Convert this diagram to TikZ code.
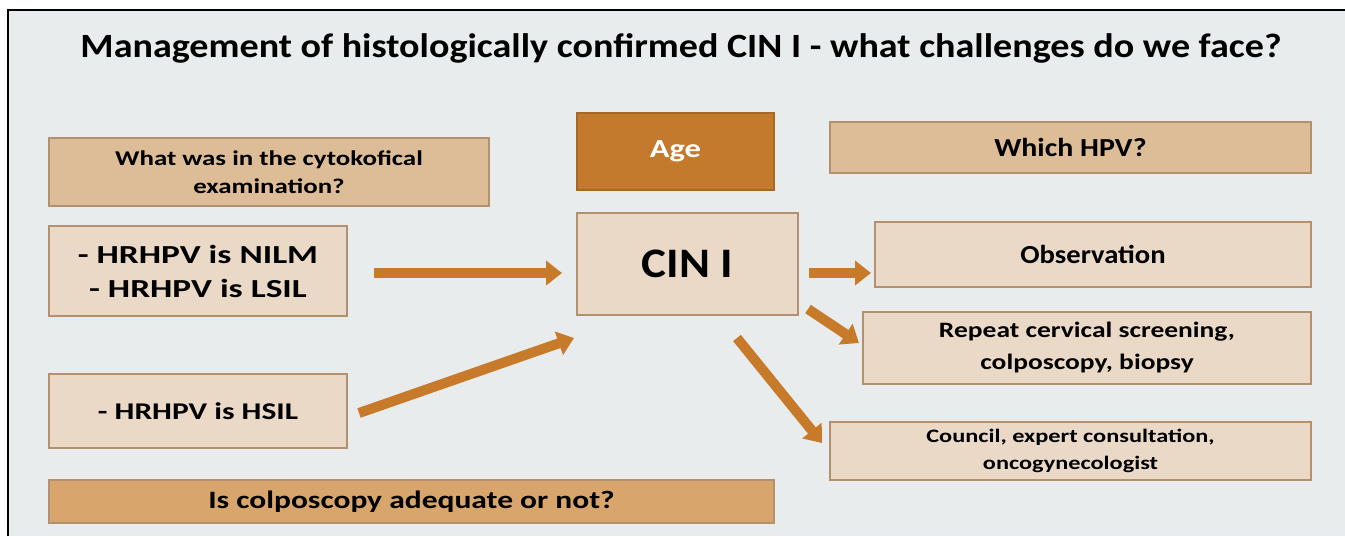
\documentclass[tikz,border=0pt]{standalone}
\usepackage{fontspec}
\setmainfont{Carlito}
\usetikzlibrary{arrows.meta}

\definecolor{bgray}{HTML}{E9ECED}
\definecolor{tanfill}{HTML}{DDBD98}
\definecolor{palefill}{HTML}{EAD9C7}
\definecolor{agefill}{HTML}{C47A2C}
\definecolor{colpfill}{HTML}{D8A66C}
\definecolor{boxline}{HTML}{B39070}
\definecolor{arrowcol}{HTML}{C77B2A}

% bold text at size #1, leading #2, widened by #3
\newcommand{\boxfont}[3]{\bfseries\fontsize{#1}{#2}\selectfont\addfontfeatures{FakeStretch=#3}}

\tikzset{
  box/.style={draw=boxline, line width=2pt, inner sep=0pt, align=center},
  arr/.style={arrowcol, line width=10pt, -{Triangle[length=16pt,width=24pt]}},
}

\begin{document}
\begin{tikzpicture}[x=1pt,y=-1pt]
  \useasboundingbox (0,0) rectangle (1345,536);
  % frame
  \fill[bgray] (8,10) rectangle (1345,536);
  \draw[line width=1.5pt] (8,536) -- (8,10) -- (1345,10);

  \node[font=\boxfont{34}{40}{1.12}] (title) at (681,48) {Management of histologically confirmed CIN I - what challenges do we face?};

  % left column
  \node[box, fill=tanfill, minimum width=440, minimum height=68, font=\boxfont{21}{28}{1.28}] (cyto) at (269,172) {What was in the cytokofical\\examination?};
  \node[box, fill=palefill, minimum width=298, minimum height=90, font=\boxfont{26}{34}{1.36}] (nilm) at (198,271) {- HRHPV is NILM\\- HRHPV is LSIL};
  \node[box, fill=palefill, minimum width=298, minimum height=74, font=\boxfont{24}{30}{1.31}] (hsil) at (198,411) {- HRHPV is HSIL};
  \node[box, fill=colpfill, minimum width=725, minimum height=43, font=\boxfont{25}{30}{1.26}] (colp) at (411.5,501.5) {Is colposcopy adequate or not?};

  % centre
  \node[box, draw=agefill!85!black, fill=agefill, text=white, minimum width=197, minimum height=77, font=\boxfont{26}{30}{1.25}] (age) at (675.5,151.5) {Age};
  \node[box, fill=palefill, minimum width=221, minimum height=102, font=\boxfont{42}{48}{1.12}] (cin) at (687.5,264) {CIN I};

  % right column
  \node[box, fill=tanfill, minimum width=481, minimum height=51, font=\boxfont{26}{32}{1.15}] (hpv) at (1070.5,147.5) {Which HPV?};
  \node[box, fill=palefill, minimum width=436, minimum height=65, font=\boxfont{26}{32}{1.10}] (obs) at (1093,254.5) {Observation};
  \node[box, fill=palefill, minimum width=448, minimum height=72, font=\boxfont{22}{32}{1.25}] (rep) at (1087,348) {Repeat cervical screening,\\colposcopy, biopsy};
  \node[box, fill=palefill, minimum width=481, minimum height=58, font=\boxfont{19}{27}{1.28}] (coun) at (1070.5,451) {Council, expert consultation,\\oncogynecologist};

  % arrows
  \draw[arr] ([xshift=26pt,yshift=-2pt]nilm.east) -- ([xshift=-14pt,yshift=-2pt]nilm.east -| cin.west);
  \draw[arr] ([xshift=11pt,yshift=-2pt]hsil.east) -- ([xshift=-2pt,yshift=-22pt]cin.south west);
  \draw[arr] ([xshift=10pt,yshift=-9pt]cin.east) -- ([xshift=-3pt,yshift=-9pt]cin.east -| obs.west);
  \draw[arr] ([xshift=9pt,yshift=7pt]cin.south east) -- ([xshift=-3pt,yshift=5pt]rep.west);
  \draw[arr] ([xshift=49.5pt,yshift=-22pt]cin.south) -- ([xshift=-7pt,yshift=8pt]coun.west);
\end{tikzpicture}
\end{document}
